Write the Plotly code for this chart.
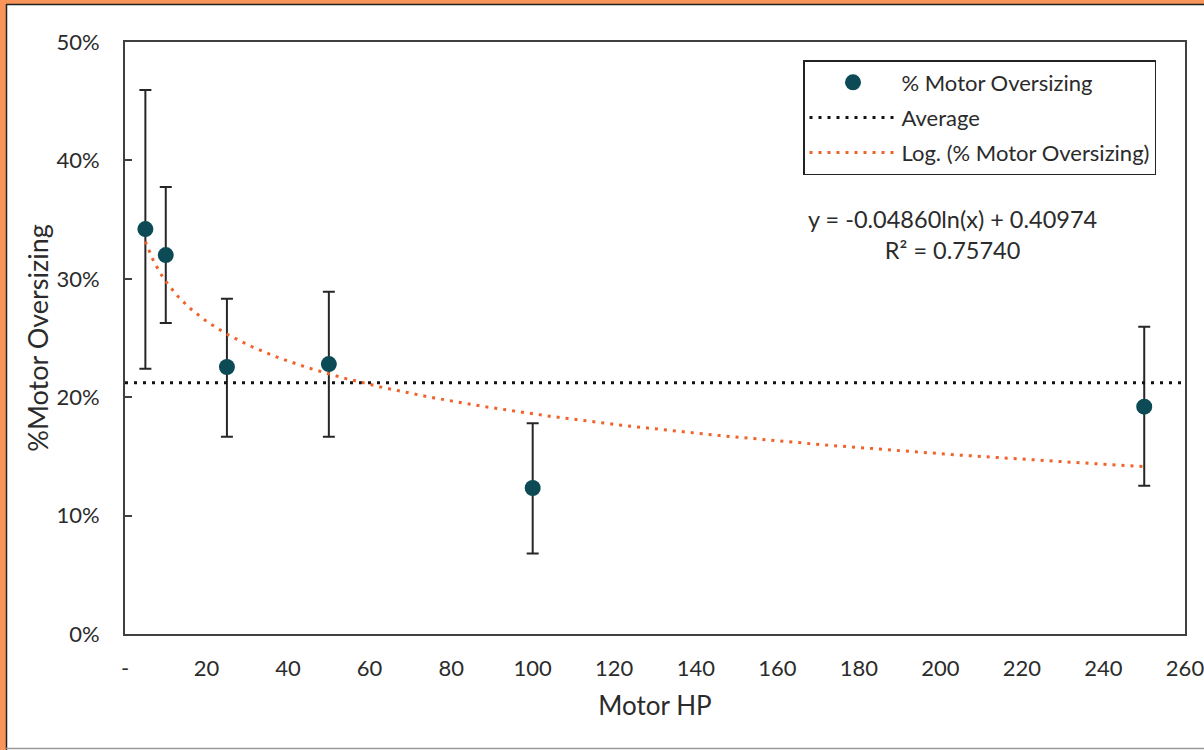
import numpy as np
import plotly.graph_objects as go

# ---- data ----
motor_hp = [5, 10, 25, 50, 100, 250]
oversizing = [0.342, 0.320, 0.2255, 0.228, 0.1233, 0.192]
err_upper = [0.4595, 0.3775, 0.2832, 0.289, 0.178, 0.2595]
err_lower = [0.224, 0.2627, 0.1667, 0.1667, 0.068, 0.1253]
average_value = 0.2123
trend_slope = -0.04860
trend_intercept = 0.40974
r_squared = 0.75740
x_tickvals = [0, 20, 40, 60, 80, 100, 120, 140, 160, 180, 200, 220, 240, 260]
x_ticktext = ["-", "20", "40", "60", "80", "100", "120", "140", "160", "180", "200", "220", "240", "260"]
y_tickvals = [0, 0.1, 0.2, 0.3, 0.4, 0.5]

W, H = 1204, 750
L, R, T, B = 125, 1185, 42, 634
FONT = "Lato"
TXT = "#2b2b2b"
AX = "#404040"
TEAL = "#0C4A56"
ORANGE = "#F0622A"


def px(xp):
    return (xp - L) / (R - L)


def py(yp):
    return (B - yp) / (B - T)


e_plus = [u - v for u, v in zip(err_upper, oversizing)]
e_minus = [v - d for v, d in zip(oversizing, err_lower)]

trend_x = np.linspace(motor_hp[0], motor_hp[-1], 300)
trend_y = trend_slope * np.log(trend_x) + trend_intercept

fig = go.Figure()
fig.add_trace(go.Scatter(
    x=motor_hp, y=oversizing, mode="markers", name="% Motor Oversizing",
    marker=dict(color=TEAL, size=16, line=dict(width=0)),
    error_y=dict(type="data", symmetric=False, array=e_plus, arrayminus=e_minus,
                 color="#262626", thickness=2, width=6),
    legendgroup="a",
))
fig.add_trace(go.Scatter(
    x=[0, 260], y=[average_value, average_value], mode="lines", name="Average",
    line=dict(color="#111111", width=3, dash="3px,6px"),
    legendgroup="b",
))
fig.add_trace(go.Scatter(
    x=trend_x, y=trend_y, mode="lines", name="Log. (% Motor Oversizing)",
    line=dict(color=ORANGE, width=3, dash="3px,6px"),
    legendgroup="c",
))

shapes = [
    # orange frame (left and top)
    dict(type="rect", xref="paper", yref="paper", x0=px(0), x1=px(6), y0=py(750), y1=py(0),
         fillcolor="#F9955A", line=dict(width=0)),
    dict(type="rect", xref="paper", yref="paper", x0=px(0), x1=px(1204), y0=py(4), y1=py(0),
         fillcolor="#F9955A", line=dict(width=0)),
    dict(type="line", xref="paper", yref="paper", x0=px(6.5), x1=px(6.5), y0=py(4), y1=py(750),
         line=dict(color="#222222", width=1.5)),
    dict(type="line", xref="paper", yref="paper", x0=px(6), x1=px(1204), y0=py(4.5), y1=py(4.5),
         line=dict(color="#222222", width=1.5)),
    dict(type="line", xref="paper", yref="paper", x0=px(6), x1=px(1204), y0=py(748.5), y1=py(748.5),
         line=dict(color="#999999", width=1.5)),
]

fig.update_layout(
    width=W, height=H,
    margin=dict(l=L, r=W - R, t=T, b=H - B, autoexpand=False),
    paper_bgcolor="white", plot_bgcolor="white",
    font=dict(family=FONT, size=22, color=TXT),
    showlegend=True,
    legend=dict(
        x=px(803), y=py(60), xanchor="left", yanchor="top",
        bordercolor="#222222", borderwidth=1.5, bgcolor="white",
        font=dict(family=FONT, size=22, color=TXT),
        traceorder="grouped", tracegroupgap=3.5, itemwidth=87,
    ),
    shapes=shapes,
    annotations=[dict(
        xref="paper", yref="paper", x=px(952), y=py(235), xanchor="center", yanchor="middle",
        text=f"y = {trend_slope:.5f}ln(x) + {trend_intercept:.5f}<br>R² = {r_squared:.5f}",
        showarrow=False, align="center", font=dict(family=FONT, size=23.5, color=TXT),
    )],
)
fig.update_xaxes(
    range=[0, 260], tickmode="array", tickvals=x_tickvals, ticktext=x_ticktext,
    showgrid=False, zeroline=False, showline=True, linecolor=AX, linewidth=2, mirror=True,
    ticks="", ticklabelstandoff=14, ticklabeloverflow="allow",
    tickfont=dict(family=FONT, size=22, color=TXT),
    title=dict(text="Motor HP", font=dict(family=FONT, size=26, color=TXT), standoff=16),
)
fig.update_yaxes(
    range=[0, 0.5], tickmode="array", tickvals=y_tickvals, tickformat=".0%",
    showgrid=False, zeroline=False, showline=True, linecolor=AX, linewidth=2, mirror=True,
    ticks="inside", ticklen=7, tickwidth=2, tickcolor=AX, ticklabelstandoff=19,
    ticklabeloverflow="allow",
    tickfont=dict(family=FONT, size=22, color=TXT),
    title=dict(text="%Motor Oversizing", font=dict(family=FONT, size=27, color=TXT), standoff=0),
)

fig.write_html(
    "out.html",
    config={"displayModeBar": False},
    post_script="document.body.style.margin='0';document.body.style.overflow='hidden';",
)
